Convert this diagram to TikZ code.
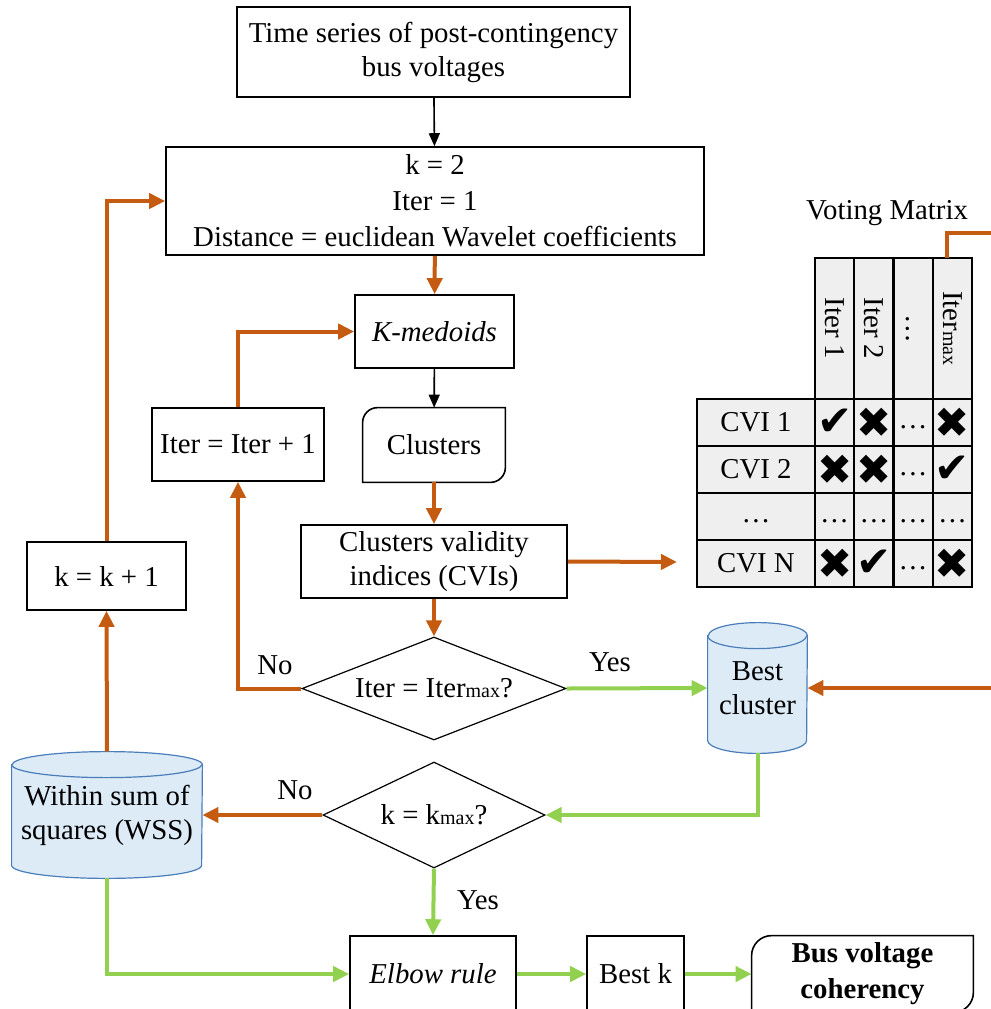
\documentclass[tikz,border=0pt]{standalone}
\usepackage{fontspec}
\setmainfont{Liberation Serif}
\newfontfamily\symfont{DejaVu Sans}
\usetikzlibrary{arrows.meta,shapes.geometric,backgrounds}

\definecolor{flowor}{HTML}{C55A11}
\definecolor{flowgr}{HTML}{92D050}
\definecolor{cylfill}{HTML}{DDEBF7}
\definecolor{cyledge}{HTML}{4A7EBB}
\definecolor{tabgray}{HTML}{EFEFEF}

\newcommand\vyes{{\symfont\fontsize{21}{21}\selectfont ✔}}
\newcommand\vno{{\symfont\fontsize{21}{21}\selectfont ✖}}
\newcommand\vdot{\vphantom{Ag}\ldots}
\newcommand\smallmax{{\fontsize{10}{12}\selectfont max}}

% vertical cylinder drawn around a named node
\newcommand\cylbody[3]{%
  \draw[cyl] ([yshift=-#3]#1.north west) -- ([yshift=#3]#1.south west)
    arc[start angle=180,end angle=360,x radius=#2,y radius=#3]
    -- ([yshift=-#3]#1.north east)
    arc[start angle=0,end angle=180,x radius=#2,y radius=#3] -- cycle;
  \draw[cyl,fill=none] ([yshift=-#3]#1.north west)
    arc[start angle=180,end angle=360,x radius=#2,y radius=#3];}

\begin{document}
\begin{tikzpicture}[x=0.5pt,y=-0.5pt,
  base/.style={font=\fontsize{14.4}{17}\selectfont, align=center, inner sep=0pt},
  box/.style={base, draw=black, line width=0.8pt},
  dia/.style={base, draw=black, line width=0.6pt, diamond, aspect=2.5},
  cyl/.style={draw=cyledge, fill=cylfill, line width=0.6pt},
  cell/.style={base, draw=black, line width=1.2pt, fill=tabgray, minimum height=23.5pt, minimum width=19.625pt},
  hcell/.style={cell, minimum height=70.5pt},
  lcell/.style={cell, minimum width=59pt},
  oarrow/.style={draw=flowor, line width=2pt, -{Triangle[length=8pt,width=7.5pt]}},
  oline/.style={draw=flowor, line width=2pt},
  garrow/.style={draw=flowgr, line width=2pt, -{Triangle[length=8pt,width=7.5pt]}},
  barrow/.style={draw=black, line width=0.8pt, -{Triangle[length=6.5pt,width=5.5pt]}}
]
\useasboundingbox (0,0) rectangle (991,1009);
\clip (0,0) rectangle (991,1009);

% process boxes
\node[box, minimum width=196.5pt, minimum height=45pt] (ts) at (433.5,52)
  {Time series of post-contingency\\bus voltages};
\node[box, minimum width=269pt, minimum height=54pt, font=\fontsize{14.4}{18}\selectfont] (init) at (435,201)
  {k = 2\\Iter = 1\\Distance = euclidean Wavelet coefficients};
\node[box, minimum width=79.5pt, minimum height=36.5pt] (kmed) at (434.5,331.5) {\textit{K-medoids}};
\node[base, minimum width=71pt, minimum height=37pt] (clus) at (434,445) {Clusters};
\draw[line width=0.8pt] ([xshift=7.5pt]clus.north west)
  arc[start angle=90,end angle=180,radius=7.5pt] -- (clus.south west)
  -- ([xshift=-7.5pt]clus.south east)
  arc[start angle=-90,end angle=0,radius=7.5pt] -- (clus.north east) -- cycle;
\node[box, minimum width=86pt, minimum height=36.5pt] (iinc) at (238,444.5) {Iter = Iter + 1};
\node[box, minimum width=133pt, minimum height=36.5pt] (cvi) at (434,561.5)
  {Clusters validity\\indices (CVIs)};
\node[dia, minimum width=132pt, minimum height=51.5pt] (d1) at (434,688.5) {Iter = Iter\smallmax?};
\node[base, minimum width=49.5pt, minimum height=65pt] (bc) at (757.5,688) {Best\\cluster};
\node[box, minimum width=79.5pt, minimum height=34pt] (kinc) at (106.5,576) {k = k + 1};
\node[dia, minimum width=111pt, minimum height=53pt] (d2) at (434,815) {k = k\smallmax?};
\node[base, minimum width=95pt, minimum height=63pt] (wss) at (107,815) {Within sum of\\squares (WSS)};
\node[box, minimum width=83pt, minimum height=38pt] (elbow) at (433,974) {\textit{Elbow rule}};
\node[box, minimum width=48.5pt, minimum height=38pt] (bestk) at (635.5,974) {Best k};
\node[base, minimum width=110.5pt, minimum height=38pt, font=\bfseries\fontsize{14.4}{18}\selectfont] (bvc) at (862.5,974)
  {Bus voltage\\coherency};
\draw[line width=0.8pt] ([xshift=10pt]bvc.north west)
  arc[start angle=90,end angle=180,radius=10pt] -- (bvc.south west)
  -- ([xshift=-10pt]bvc.south east)
  arc[start angle=-90,end angle=0,radius=10pt] -- (bvc.north east) -- cycle;

% cylinders behind their texts
\begin{scope}[on background layer]
  \cylbody{bc}{24.75pt}{6.5pt}
  \cylbody{wss}{47.5pt}{6.5pt}
\end{scope}

% voting matrix
\node[base] (vmt) at (887,213) {Voting Matrix};
\node[hcell] (h1) at (834.6,328.5) {\rotatebox{-90}{Iter 1}};
\node[hcell] (h2) at (873.9,328.5) {\rotatebox{-90}{Iter 2}};
\node[hcell] (h3) at (913.1,328.5) {\rotatebox{-90}{\vdot}};
\node[hcell] (h4) at (952.4,328.5) {\rotatebox{-90}{Iter\smallmax}};
\foreach \r/\y/\lab/\a/\b/\c/\d in {
    1/422.5/CVI 1/\vyes/\vno/\vdot/\vno,
    2/469.5/CVI 2/\vno/\vno/\vdot/\vyes,
    3/516.5/\vdot/\vdot/\vdot/\vdot/\vdot,
    4/563.5/CVI N/\vno/\vyes/\vdot/\vno} {
  \node[lcell] (l\r) at (756,\y) {\lab};
  \node[cell] (c\r a) at (834.6,\y) {\a};
  \node[cell] (c\r b) at (873.9,\y) {\b};
  \node[cell] (c\r c) at (913.1,\y) {\c};
  \node[cell] (c\r d) at (952.4,\y) {\d};
}

% free ends at the picture edge and before the matrix
\coordinate (vmtop) at (947,258);
\coordinate (vmout) at (1000,233);
\coordinate (vmin) at (1000,688);
\coordinate (vmarr) at (677,562);

% branch labels
\node[base] (no1) at (275,665) {No};
\node[base] (yes1) at (610,662) {Yes};
\node[base] (no2) at (295,790) {No};
\node[base] (yes2) at (478,900) {Yes};

% connectors
\draw[barrow] (ts) -- (init);
\draw[oarrow] (init) -- (kmed);
\draw[barrow] (kmed) -- (clus);
\draw[oarrow] (clus) -- (cvi);
\draw[oarrow] (cvi) -- (d1);
\draw[oarrow] (cvi.east) -- (vmarr);
\draw[oarrow] (d1.west) -| (iinc.south);
\draw[oarrow] (iinc.north) |- (kmed.west);
\draw[garrow] (d1.east) -- (bc.west);
\draw[oline] (vmtop) |- (vmout);
\draw[oarrow] (vmin) -- (bc.east);
\draw[garrow] (bc.south) |- (d2.east);
\draw[oarrow] (d2.west) -- (wss.east);
\draw[oarrow] (wss.north) -- (kinc.south);
\draw[oarrow] (kinc.north) |- (init.west);
\draw[garrow] (d2.south) -- (elbow.north);
\draw[garrow] (wss.south) |- (elbow.west);
\draw[garrow] (elbow.east) -- (bestk.west);
\draw[garrow] (bestk.east) -- (bvc.west);
\end{tikzpicture}
\end{document}
